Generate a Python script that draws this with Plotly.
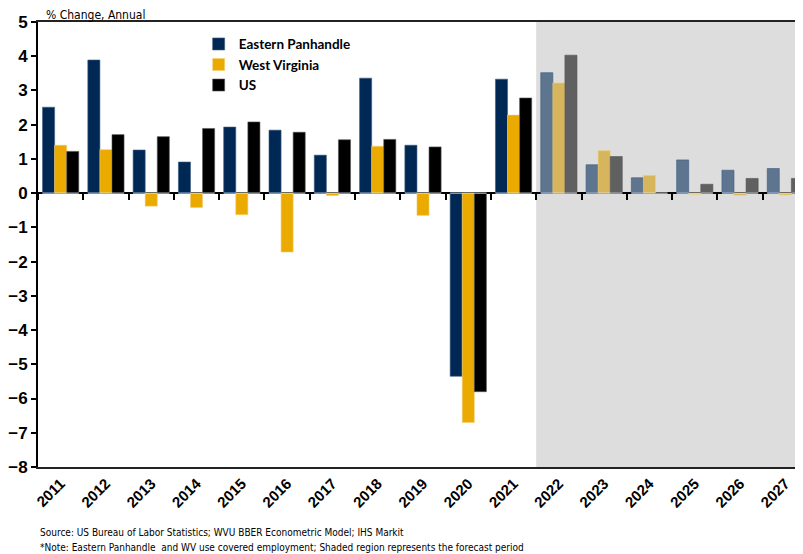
import plotly.graph_objects as go

# data
years = ['2011', '2012', '2013', '2014', '2015', '2016', '2017', '2018', '2019',
         '2020', '2021', '2022', '2023', '2024', '2025', '2026', '2027']
eastern_panhandle = [2.51, 3.89, 1.26, 0.91, 1.93, 1.84, 1.11, 3.36, 1.40,
                     -5.35, 3.33, 3.52, 0.83, 0.45, 0.97, 0.67, 0.72]
west_virginia = [1.40, 1.27, -0.38, -0.42, -0.63, -1.72, -0.07, 1.37, -0.65,
                 -6.70, 2.28, 3.22, 1.24, 0.52, -0.03, -0.06, -0.05]
us = [1.22, 1.71, 1.65, 1.89, 2.08, 1.78, 1.56, 1.57, 1.35,
      -5.80, 2.78, 4.03, 1.07, 0.0, 0.26, 0.43, 0.43]
first_forecast = '2022'

"""
#  Colours (actual vs forecast)
"""
series = [
    ('Eastern Panhandle', eastern_panhandle, '#002855', '#5E7590', '#3c5a80'),
    ('West Virginia', west_virginia, '#EAAA00', '#D6B55C', '#f3cf70'),
    ('US', us, '#000000', '#606060', '#555555'),
]

fig = go.Figure()
for name, vals, c_hist, c_fcst, c_line in series:
    colors = [c_fcst if y >= first_forecast else c_hist for y in years]
    fig.add_trace(go.Bar(
        x=years, y=vals, name=name,
        marker=dict(color=colors, line=dict(color=c_line, width=0.6)),
    ))

# shaded forecast period
fig.add_shape(type='rect', xref='x', yref='y', x0=10.5, x1=17, y0=-8, y1=5,
              fillcolor='#DDDDDD', line=dict(width=0), layer='below')

narrow = 'DejaVu Sans Condensed, Liberation Sans, Arial, sans-serif'

# page body has an 8px margin, so the figure is 8px smaller than the window
fig.update_layout(
    width=795, height=546,
    margin=dict(l=30, r=0, t=14, b=87),
    plot_bgcolor='white', paper_bgcolor='white',
    barmode='group', bargap=0.2, bargroupgap=0,
    showlegend=True,
    legend=dict(x=0.21, y=0.985, xanchor='left', yanchor='top',
                bgcolor='rgba(0,0,0,0)', itemwidth=30, tracegroupgap=0,
                font=dict(family='Lato, Open Sans, sans-serif', size=13.5, color='black', weight='bold')),
    font=dict(family='Liberation Sans, Arial, sans-serif', color='black'),
)

fig.update_xaxes(
    type='category', categoryorder='array', categoryarray=years,
    range=[-0.5, 16.39], automargin=False,
    showline=True, linecolor='#222222', linewidth=2, mirror=True,
    ticks='', tickangle=-45,
    tickfont=dict(size=15, weight='bold'),
    showgrid=False, zeroline=False,
)
fig.update_yaxes(
    range=[-8, 5], dtick=1, tick0=0, automargin=False,
    showline=True, linecolor='black', linewidth=2,
    ticks='outside', ticklen=5, tickwidth=1.5, tickcolor='black',
    tickfont=dict(size=17, weight='bold'),
    showgrid=False, zeroline=True, zerolinecolor='black', zerolinewidth=2,
)

# tick marks along the zero line
fig.update_layout(xaxis2=dict(
    matches='x', overlaying='x', anchor='free', position=8 / 13, automargin=False,
    type='category', categoryorder='array', categoryarray=years,
    ticks='outside', tickson='boundaries', ticklen=6, tickwidth=2, tickcolor='black',
    showticklabels=False, showline=False, showgrid=False, zeroline=False,
))
fig.add_trace(go.Bar(x=years, y=[0] * len(years), xaxis='x2', showlegend=False,
                     hoverinfo='skip', marker=dict(color='rgba(0,0,0,0)')))

fig.add_annotation(text='% Change, Annual', xref='paper', yref='paper', x=0.008, y=1.0,
                   xanchor='left', yanchor='middle', yshift=7, showarrow=False,
                   font=dict(family=narrow, size=12))
fig.add_annotation(text='Source: US Bureau of Labor Statistics; WVU BBER Econometric Model; IHS Markit',
                   xref='paper', yref='paper', x=0.0, y=-0.148,
                   xanchor='left', yanchor='middle', showarrow=False,
                   font=dict(family=narrow, size=10))
fig.add_annotation(text='*Note: Eastern Panhandle  and WV use covered employment; Shaded region represents the forecast period',
                   xref='paper', yref='paper', x=0.0, y=-0.182,
                   xanchor='left', yanchor='middle', showarrow=False,
                   font=dict(family=narrow, size=10))

fig.write_html("out.html")
